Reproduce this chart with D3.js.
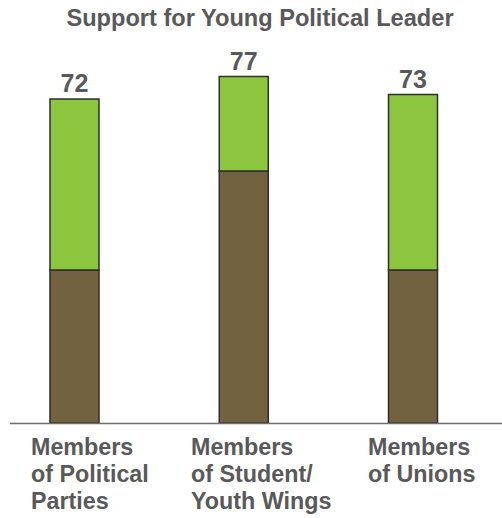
<!DOCTYPE html>
<html><head><meta charset="utf-8">
<script src="https://cdn.jsdelivr.net/npm/d3@7"></script>
<style>body{margin:0;background:#fff}svg{display:block}</style>
</head><body>
<script>
const categories = ["Members of Political Parties", "Members of Student/ Youth Wings", "Members of Unions"];
const categoryLines = [["Members", "of Political", "Parties"], ["Members", "of Student/", "Youth Wings"], ["Members", "of Unions"]];
const lowerValues = [34, 56, 34];
const upperValues = [38, 21, 39];
const totals = [72, 77, 73];
const title = "Support for Young Political Leader";

const W = 502, H = 518;
const svg = d3.select("body").append("svg").attr("width", W).attr("height", H);
const font = "'Liberation Sans', Arial, sans-serif";
const textColor = "#595959";

const baseY = 423;
const y = d3.scaleLinear().domain([0, 100]).range([baseY, baseY - 450]);
const barCenters = d3.scalePoint().domain(categories).range([74.5, 413]);
const barW = 49;

svg.append("text").attr("x", 260).attr("y", 26).attr("text-anchor", "middle")
  .attr("font-family", font).attr("font-weight", "bold").attr("font-size", 23.6)
  .attr("fill", textColor).text(title);

const stacks = categories.map((c, i) => ({c, lo: lowerValues[i], hi: upperValues[i], total: totals[i]}));

const g = svg.append("g");
g.selectAll("rect.lo").data(stacks).join("rect").attr("class", "lo")
  .attr("x", d => barCenters(d.c) - barW / 2).attr("width", barW)
  .attr("y", d => y(d.lo)).attr("height", d => y(0) - y(d.lo))
  .attr("fill", "#736240").attr("stroke", "#2e2e2e").attr("stroke-width", 1.5);
g.selectAll("rect.hi").data(stacks).join("rect").attr("class", "hi")
  .attr("x", d => barCenters(d.c) - barW / 2).attr("width", barW)
  .attr("y", d => y(d.lo + d.hi)).attr("height", d => y(d.lo) - y(d.lo + d.hi))
  .attr("fill", "#8CC63F").attr("stroke", "#2e2e2e").attr("stroke-width", 1.5);

g.selectAll("text.val").data(stacks).join("text").attr("class", "val")
  .attr("x", d => barCenters(d.c)).attr("y", d => y(d.total) - 7)
  .attr("text-anchor", "middle").attr("font-family", font).attr("font-weight", "bold")
  .attr("font-size", 25).attr("fill", textColor).text(d => d.total);

svg.append("line").attr("x1", 10).attr("x2", W).attr("y1", baseY + 0.5).attr("y2", baseY + 0.5)
  .attr("stroke", "#6e6e6e").attr("stroke-width", 1.5);

const labelX = [31, 191, 368];
categoryLines.forEach((lines, i) => {
  const t = svg.append("text").attr("font-family", font).attr("font-weight", "bold")
    .attr("font-size", 23.3).attr("fill", textColor);
  lines.forEach((l, j) => t.append("tspan").attr("x", labelX[i]).attr("y", 455 + j * 27.2).text(l));
});
</script>
</body></html>
